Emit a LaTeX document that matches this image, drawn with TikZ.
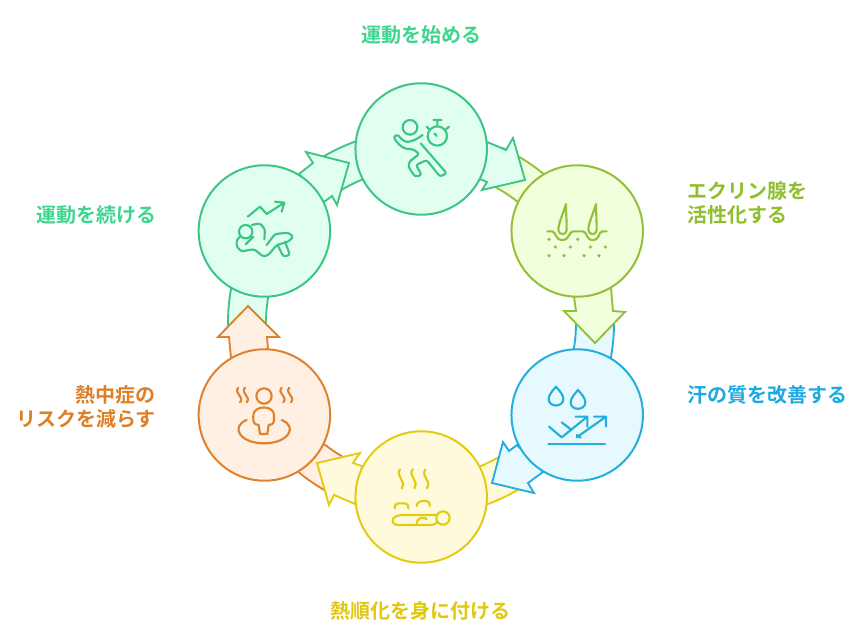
\documentclass[tikz,border=0pt]{standalone}
\usepackage{fontspec}
\setmainfont{Noto Sans CJK JP}[BoldFont={Noto Sans CJK JP Bold}]
\definecolor{gS}{HTML}{3CC583}\definecolor{gF}{HTML}{E1FFF1}
\definecolor{oS}{HTML}{93BF3A}\definecolor{oF}{HTML}{F2FFDC}
\definecolor{bS}{HTML}{25AEDD}\definecolor{bF}{HTML}{E6F9FF}
\definecolor{yS}{HTML}{E3CB14}\definecolor{yF}{HTML}{FFFADB}
\definecolor{rS}{HTML}{E0812E}\definecolor{rF}{HTML}{FFF0E3}
\definecolor{gT}{HTML}{3DD68F}\definecolor{oT}{HTML}{8FBE2E}
\definecolor{bT}{HTML}{1EA9E0}\definecolor{yT}{HTML}{DFC80E}
\definecolor{rT}{HTML}{DD7F25}
\tikzset{
  stagecircle/.style={circle,minimum size=98.6pt,inner sep=0pt,line width=1.5pt},
  stagearrow/.style={line width=1.4pt,line join=miter,miter limit=10},
  lab/.style={font=\bfseries\fontsize{15pt}{18pt}\selectfont,inner sep=0pt},
  glyph/.style={line width=1.6pt,line cap=round,line join=round},
  roundglyph/.style={glyph,rounded corners=1.8pt}
}
\newcommand{\band}[4]{%
  \draw[stagearrow,draw=#1,fill=#2,shift={(421,323)}]
    (#3:193) arc[start angle=#3,end angle=#4,radius=193] -- (#4:155)
    arc[start angle=#4,end angle=#3,radius=155] -- cycle;}
\begin{document}
\begin{tikzpicture}[x=0.75pt,y=-0.75pt]
\useasboundingbox (0,0) rectangle (862,642);
% curved tails
\band{gS}{gF}{-122}{-95}
\band{oS}{oF}{-65}{-35}
\band{bS}{bF}{-3}{15}
\band{yS}{yF}{58}{85}
\band{rS}{rF}{119}{145}
\band{gS}{gF}{178}{205}
% arrow heads
\draw[stagearrow,draw=gS,fill=gF] (299,174)--(313,163)--(306,152)--(349,163)--(337,205)--(332,196)--(324,202)--cycle;
\draw[stagearrow,draw=gS,fill=gF] (487,142)--(506,150)--(513,138)--(525,180)--(482,190)--(487,182)--(480,179)--cycle;
\draw[stagearrow,draw=oS,fill=oF] (574,297)--(576,311)--(564,311)--(595,343)--(625,312)--(613,311)--(611,288)--cycle;
\draw[stagearrow,draw=bS,fill=bF] (517,445)--(509,451)--(503,442)--(492,483)--(534,493)--(528,483)--(543,472)--cycle;
\draw[stagearrow,draw=yS,fill=yF] (362,466)--(353,463)--(360,453)--(317,463)--(329,505)--(334,495)--(355,504)--cycle;
\draw[stagearrow,draw=rS,fill=rF] (231,358)--(229,337)--(218,337)--(248,306)--(279,337)--(267,337)--(268,349)--cycle;
% circles
\node[stagecircle,draw=gS,fill=gF] (start) at (421.2,149) {};
\node[stagecircle,draw=oS,fill=oF] (gland) at (577.2,231) {};
\node[stagecircle,draw=bS,fill=bF] (sweat) at (577.2,415) {};
\node[stagecircle,draw=yS,fill=yF] (acclim) at (421.2,497) {};
\node[stagecircle,draw=rS,fill=rF] (risk) at (264.4,415) {};
\node[stagecircle,draw=gS,fill=gF] (keep) at (264.4,231) {};
% labels
\node[lab,text=gT] (l1) at (421,35) {運動を始める};
\node[lab,text=oT,anchor=west,align=left] (l2) at (687,203) {エクリン腺を\\活性化する};
\node[lab,text=bT,anchor=west] (l3) at (687,395) {汗の質を改善する};
\node[lab,text=yT] (l4) at (420,611) {熱順化を身に付ける};
\node[lab,text=rT,anchor=east,align=right] (l5) at (156,407) {熱中症の\\リスクを減らす};
\node[lab,text=gT,anchor=east] (l6) at (156.5,215) {運動を続ける};
% icon: runner with stopwatch
\begin{scope}[shift={(380,110)},scale=1/3,draw=gS]
\draw[glyph] (90,52) circle[radius=22];
\draw[roundglyph] (128,75)--(105,90)--(80,97)--(65,88)--(52,73)--(40,82)--(58,105)--(75,116)--(100,118)--(118,132)--(88,155)--(85,170)--(105,200)--(125,195)--(108,165)--(140,150)--(180,200)--(200,190)--(122,100);
\draw[glyph] (172,78) circle[radius=29];
\draw[glyph] (172,49)--(172,32) (160,30)--(185,30) (140,50)--(147,57) (207,50)--(198,58) (163,70)--(170,78);
\end{scope}
% icon: resting figure with rising arrow
\begin{scope}[shift={(225,190)},scale=1/3,draw=gS]
\draw[glyph] (68,80)--(105,50)--(125,72)--(178,38) (150,35)--(178,38)--(170,65);
\draw[glyph] (62,125) circle[radius=20];
\draw[roundglyph] (45,140)--(35,150)--(35,170)--(50,185)--(70,180)--(88,178)--(115,200)--(130,195)--(155,165)--(190,155)--(205,140)--(190,128)--(150,132)--(125,165);
\draw[roundglyph] (80,105)--(105,100)--(120,118)--(118,148);
\draw[glyph] (85,140)--(62,163);
\draw[roundglyph] (158,165)--(175,200)--(195,195)--(180,155);
\end{scope}
% icon: skin and hair
\begin{scope}[shift={(430,100)},scale=1/3,draw=oS]
\foreach \dx in {0,90}{
\draw[glyph,shift={(\dx,0)}] (408,312) .. controls (400,340) and (385,370) .. (385,390) .. controls (385,405) and (410,408) .. (410,390) .. controls (410,360) and (408,340) .. (408,312);}
\draw[glyph] (352,394)--(366,394) .. controls (378,394) and (375,420) .. (397,420) .. controls (420,420) and (415,394) .. (430,394) -- (458,394) .. controls (472,394) and (467,420) .. (488,420) .. controls (510,420) and (505,394) .. (518,394) -- (530,394);
\foreach \px/\py in {357/418,443/418,376/441,421/441,481/441,526/441,357/467,402/467,462/467,507/467}{
\fill[oS] (\px,\py) circle[radius=5.5];}
\end{scope}
% icon: drops and rising arrows
\begin{scope}[shift={(480,290)},scale=1/3,draw=bS]
\foreach \cx/\cy in {228/325,294/335}{
\draw[glyph,shift={(\cx,\cy)}] (0,-35) .. controls (8,-25) and (22,-12) .. (22,2) .. controls (22,28) and (-22,28) .. (-22,2) .. controls (-22,-12) and (-8,-25) .. (0,-35) -- cycle;}
\draw[glyph] (207,410)--(245,442)--(322,380) (287,380)--(322,380)--(322,410) (245,397)--(275,420);
\draw[glyph] (290,442)--(378,380) (342,380)--(378,380)--(378,410) (290,435)--(302,443);
\draw[glyph] (205,462)--(375,462);
\end{scope}
% icon: lying figure with steam
\begin{scope}[shift={(290,420)},scale=1/3,draw=yS]
\foreach \dx in {0,38,76}{
\draw[glyph,shift={(\dx,0)}] (330,148) .. controls (315,170) and (350,180) .. (335,205);}
\draw[glyph] (459,294) circle[radius=20];
\draw[glyph] (440,285)--(335,285) .. controls (300,287) and (300,315) .. (325,315) -- (425,315) .. controls (435,315) and (438,310) .. (441,305);
\draw[glyph] (380,312) .. controls (378,295) and (400,288) .. (410,297);
\draw[glyph] (314,265) .. controls (314,252) and (320,250) .. (330,250) -- (345,250) .. controls (352,250) and (355,255) .. (355,265);
\draw[glyph] (380,258) .. controls (382,246) and (390,243) .. (400,243) -- (410,243) .. controls (416,243) and (420,250) .. (420,258);
\end{scope}
% icon: person in hot water
\begin{scope}[shift={(190,290)},scale=1/3,draw=rS]
\foreach \dx in {0,20,130,153}{
\draw[glyph,shift={(\dx,0)}] (145,293) .. controls (130,310) and (165,320) .. (150,337);}
\draw[glyph] (222,318) circle[radius=23];
\draw[glyph] (210,432)--(206,405)--(198,403) .. controls (188,400) and (190,385) .. (190,375) .. controls (192,345) and (252,345) .. (252,375) .. controls (252,385) and (254,400) .. (245,403) -- (236,405)--(232,432)--cycle;
\draw[glyph] (170,390) .. controls (120,410) and (150,460) .. (222,460) .. controls (295,460) and (325,410) .. (275,390);
\end{scope}
\end{tikzpicture}
\end{document}
